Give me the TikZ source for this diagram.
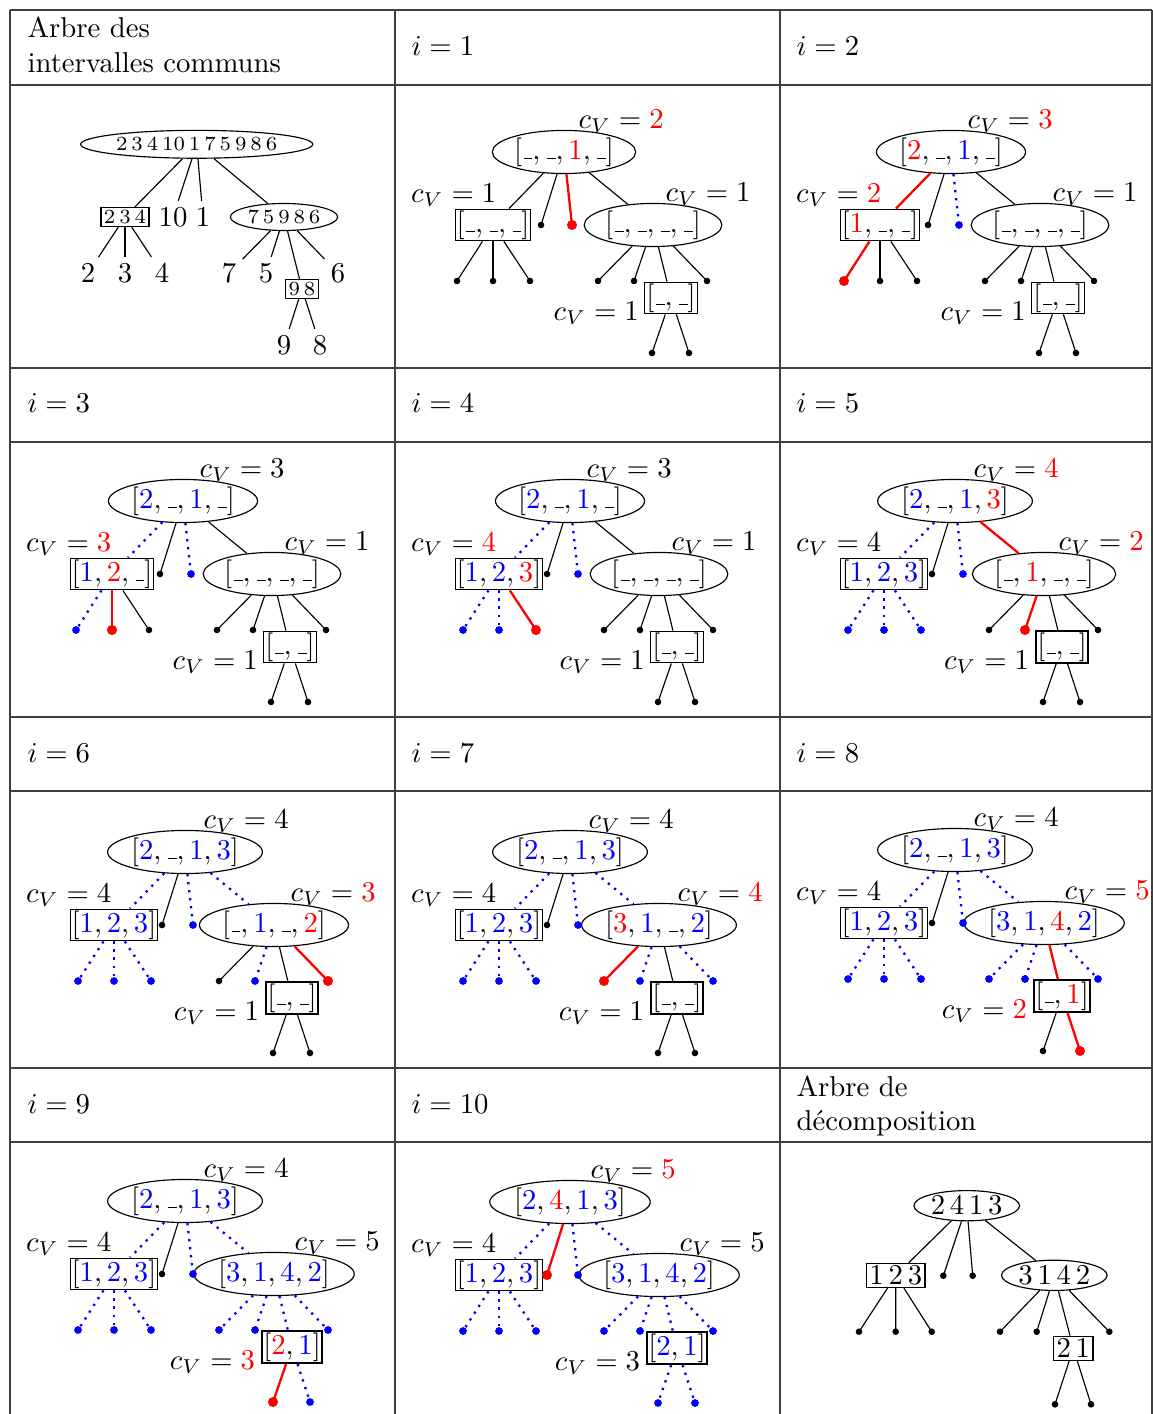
\documentclass[tikz,border=0pt]{standalone}
\usetikzlibrary{calc,shapes.geometric}
\newcommand\colB[1]{\textcolor{blue}{#1}}
\newcommand\colR[1]{\textcolor{red}{#1}}
\newcommand\myund{\mathord{\kern.06em\vbox{\hrule width.3em}}}
\tikzset{
  tabline/.style={draw=black!75, line width=0.45pt},
  ell/.style={draw, ellipse, inner sep=0.3pt, line width=0.4pt},
  bx/.style={draw, rectangle, inner sep=0.5pt, line width=0.4pt},
  bxthick/.style={line width=0.85pt},
  bxthin/.style={},
  lab/.style={inner sep=0pt},
  hdr/.style={anchor=base west, inner sep=0pt},
  num/.style={inner sep=2pt},
  edgen/.style={draw=black, line width=0.4pt},
  edger/.style={draw=red, line width=0.8pt},
  edgeb/.style={draw=blue, line width=0.8pt, dotted},
  dotn/.style={circle, fill=black, inner sep=0pt, minimum size=2.3pt},
  dotr/.style={circle, fill=red, inner sep=0pt, minimum size=3.5pt},
  dotb/.style={circle, fill=blue, inner sep=0pt, minimum size=2.7pt},
}
\newcommand\myED[3]{\draw[edge#1] (#2) -- (#3);}
\newcommand\myLF[3]{\draw[edge#1] (#2) -- (#3); \node[dot#1] (#3d) at (#3) {};}
\newcommand\mypanel[7]{%
  \begin{scope}[shift={#2}]
    \node[ell] (#1r) at (0,0) {$#3$};
    \node[bx] (#1L) at (-71,73) {$#4$};
    \node[ell] (#1R) at (89,73) {$#5$};
    \node[bx,#7] (#1S) at (107,146) {$#6$};
    \coordinate (#1m1) at (-23,73);
    \coordinate (#1m2) at (8,73);
    \coordinate (#1L1) at (-107,129);
    \coordinate (#1L2) at (-71,129);
    \coordinate (#1L3) at (-34,129);
    \coordinate (#1R1) at (34,129);
    \coordinate (#1R2) at (70,129);
    \coordinate (#1R4) at (143,129);
    \coordinate (#1S1) at (88,201);
    \coordinate (#1S2) at (125,201);
  \end{scope}}
\newcommand\mylabs[5]{%
  \node[lab] (#1lr) at ($(#1r.north east)+(6,-15)$) {$c_V = #2$};
  \node[lab] (#1lL) at ($(#1L.north west)+(-1,-13.5)$) {$c_V = #3$};
  \node[lab] (#1lR) at ($(#1R.north east)+(6,-15)$) {$c_V = #4$};
  \node[lab,anchor=east] (#1lS) at ($(#1S.west)+(-5,15)$) {$c_V = #5$};}
\newcommand\pedges[1]{\def\mypp{#1}\pedgesA}
\def\pedgesA#1#2#3#4#5#6#7#8#9{%
  \myED{#1}{\mypp r}{\mypp L}\myLF{#2}{\mypp r}{\mypp m1}\myLF{#3}{\mypp r}{\mypp m2}\myED{#4}{\mypp r}{\mypp R}%
  \myLF{#5}{\mypp L}{\mypp L1}\myLF{#6}{\mypp L}{\mypp L2}\myLF{#7}{\mypp L}{\mypp L3}%
  \myLF{#8}{\mypp R}{\mypp R1}\myLF{#9}{\mypp R}{\mypp R2}\pedgesB}
\def\pedgesB#1#2#3#4{\myED{#1}{\mypp R}{\mypp S}\myLF{#2}{\mypp R}{\mypp R4}\myLF{#3}{\mypp S}{\mypp S1}\myLF{#4}{\mypp S}{\mypp S2}}
\begin{document}
\begin{tikzpicture}[x=0.348pt, y=-0.348pt]
\useasboundingbox (0,0) rectangle (1153,1414);
% table
\foreach \yy in {10,85,368,442,717,791,1068,1142} \draw[tabline] (10,\yy) -- (1152,\yy);
\foreach \xx in {10,395,780,1152} \draw[tabline] (\xx,10) -- (\xx,1414);
% headers
\node[hdr] (h0a) at (27,37.5) {Arbre des};
\node[hdr] (h0b) at (27,72.5) {intervalles communs};
\node[hdr] (h1) at (411,55.5) {$i=1$};
\node[hdr] (h2) at (796,55.5) {$i=2$};
\node[hdr] (h3) at (27,413) {$i=3$};
\node[hdr] (h4) at (411,413) {$i=4$};
\node[hdr] (h5) at (796,413) {$i=5$};
\node[hdr] (h6) at (27,762) {$i=6$};
\node[hdr] (h7) at (411,762) {$i=7$};
\node[hdr] (h8) at (796,762) {$i=8$};
\node[hdr] (h9) at (27,1113) {$i=9$};
\node[hdr] (h10) at (411,1113) {$i=10$};
\node[hdr] (h11a) at (796,1096) {Arbre de};
\node[hdr] (h11b) at (796,1130) {d\'ecomposition};
% common intervals tree
\node[ell,font=\scriptsize,inner sep=0.5pt,minimum height=9.7pt] (ar) at (196.7,144.3) {$2\,3\,4\,10\,1\,7\,5\,9\,8\,6$};
\node[bx,font=\scriptsize,inner sep=1pt] (aL) at (125,217) {$2\,3\,4$};
\node[num] (a10) at (173,217) {10};
\node[num] (a1) at (203,217) {1};
\node[ell,font=\scriptsize,inner sep=0.5pt,minimum height=9.4pt] (aR) at (284,217) {$7\,5\,9\,8\,6$};
\node[num] (aL1) at (88,273) {2};
\node[num] (aL2) at (125,273) {3};
\node[num] (aL3) at (162,273) {4};
\node[num] (aR1) at (229,273) {7};
\node[num] (aR2) at (266,273) {5};
\node[bx,font=\scriptsize,inner sep=1pt] (aS) at (302,289) {$9\,8$};
\node[num] (aR4) at (338,273) {6};
\node[num] (aS1) at (284,345) {9};
\node[num] (aS2) at (320,345) {8};
\foreach \t in {aL,a10,a1,aR} \draw[edgen] (ar) -- (\t);
\foreach \t in {aL1,aL2,aL3} \draw[edgen] (aL) -- (\t);
\foreach \t in {aR1,aR2,aS,aR4} \draw[edgen] (aR) -- (\t);
\foreach \t in {aS1,aS2} \draw[edgen] (aS) -- (\t);
% i=1
\mypanel{p1}{(564,152)}{[\myund,\myund,\colR{1},\myund]}{[\myund,\myund,\myund]}{[\myund,\myund,\myund,\myund]}{[\myund,\myund]}{bxthin}
\mylabs{p1}{\colR{2}}{1}{1}{1}
\pedges{p1}nnrnnnnnnnnnn
% i=2
\mypanel{p2}{(951,152)}{[\colR{2},\myund,\colB{1},\myund]}{[\colR{1},\myund,\myund]}{[\myund,\myund,\myund,\myund]}{[\myund,\myund]}{bxthin}
\mylabs{p2}{\colR{3}}{\colR{2}}{1}{1}
\pedges{p2}rnbnrnnnnnnnn
% i=3
\mypanel{p3}{(183,501)}{[\colB{2},\myund,\colB{1},\myund]}{[\colB{1},\colR{2},\myund]}{[\myund,\myund,\myund,\myund]}{[\myund,\myund]}{bxthin}
\mylabs{p3}{3}{\colR{3}}{1}{1}
\pedges{p3}bnbnbrnnnnnnn
% i=4
\mypanel{p4}{(570,501)}{[\colB{2},\myund,\colB{1},\myund]}{[\colB{1},\colB{2},\colR{3}]}{[\myund,\myund,\myund,\myund]}{[\myund,\myund]}{bxthin}
\mylabs{p4}{3}{\colR{4}}{1}{1}
\pedges{p4}bnbnbbrnnnnnn
% i=5
\mypanel{p5}{(955,501)}{[\colB{2},\myund,\colB{1},\colR{3}]}{[\colB{1},\colB{2},\colB{3}]}{[\myund,\colR{1},\myund,\myund]}{[\myund,\myund]}{bxthick}
\mylabs{p5}{\colR{4}}{4}{\colR{2}}{1}
\pedges{p5}bnbrbbbnrnnnn
% i=6
\mypanel{p6}{(185,852)}{[\colB{2},\myund,\colB{1},\colB{3}]}{[\colB{1},\colB{2},\colB{3}]}{[\myund,\colB{1},\myund,\colR{2}]}{[\myund,\myund]}{bxthick}
\mylabs{p6}{4}{4}{\colR{3}}{1}
\pedges{p6}bnbbbbbnbnrnn
% i=7
\mypanel{p7}{(570,852)}{[\colB{2},\myund,\colB{1},\colB{3}]}{[\colB{1},\colB{2},\colB{3}]}{[\colR{3},\colB{1},\myund,\colB{2}]}{[\myund,\myund]}{bxthick}
\mylabs{p7}{4}{4}{\colR{4}}{1}
\pedges{p7}bnbbbbbrbnbnn
% i=8
\mypanel{p8}{(955,850)}{[\colB{2},\myund,\colB{1},\colB{3}]}{[\colB{1},\colB{2},\colB{3}]}{[\colB{3},\colB{1},\colR{4},\colB{2}]}{[\myund,\colR{1}]}{bxthick}
\mylabs{p8}{4}{4}{\colR{5}}{\colR{2}}
\pedges{p8}bnbbbbbbbrbnr
% i=9
\mypanel{p9}{(185,1201)}{[\colB{2},\myund,\colB{1},\colB{3}]}{[\colB{1},\colB{2},\colB{3}]}{[\colB{3},\colB{1},\colB{4},\colB{2}]}{[\colR{2},\colB{1}]}{bxthick}
\mylabs{p9}{4}{4}{5}{\colR{3}}
\pedges{p9}bnbbbbbbbbbrb
% i=10
\mypanel{p10}{(570,1202)}{[\colB{2},\colR{4},\colB{1},\colB{3}]}{[\colB{1},\colB{2},\colB{3}]}{[\colB{3},\colB{1},\colB{4},\colB{2}]}{[\colB{2},\colB{1}]}{bxthick}
\mylabs{p10}{\colR{5}}{4}{5}{3}
\pedges{p10}brbbbbbbbbbbb
% decomposition tree
\node[ell,inner sep=0.5pt] (dr) at (966.7,1205.7) {$2\,4\,1\,3$};
\node[bx,inner sep=1pt] (dL) at (895.8,1275.4) {$1\,2\,3$};
\node[ell,inner sep=0.5pt] (dR) at (1054.3,1275.3) {$3\,1\,4\,2$};
\node[bx,inner sep=1pt] (dS) at (1073.3,1348.3) {$2\,1$};
\coordinate (dm1) at (943.3,1275.7);
\coordinate (dm2) at (972.7,1275.7);
\coordinate (dL1) at (859,1331.7);
\coordinate (dL2) at (895.7,1331.7);
\coordinate (dL3) at (931.7,1331.7);
\coordinate (dR1) at (1000,1331.7);
\coordinate (dR2) at (1036.7,1331.7);
\coordinate (dR4) at (1109.3,1331.7);
\coordinate (dS1) at (1055,1404.3);
\coordinate (dS2) at (1091,1404.3);
\pedges{d}nnnnnnnnnnnnn
\end{tikzpicture}
\end{document}
